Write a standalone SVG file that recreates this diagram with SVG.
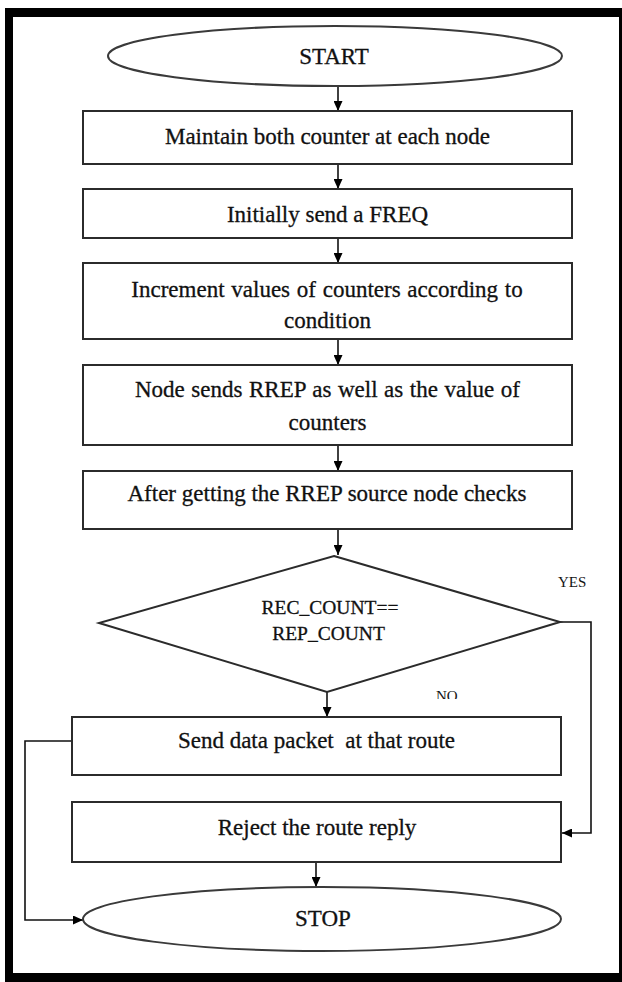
<svg xmlns="http://www.w3.org/2000/svg" width="622" height="982" viewBox="0 0 622 982">
  <style>
    .box { fill: #ffffff; stroke: #2b2b2b; stroke-width: 2; }
    .term { fill: #ffffff; stroke: #3a3a3a; stroke-width: 2; }
    .txt { font-family: "Liberation Serif", "DejaVu Serif", serif; font-size: 23px; fill: #111111; stroke: #111111; stroke-width: 0.3; text-anchor: middle; }
    .dtxt { font-size: 19.5px; }
    .lbl { font-family: "Liberation Serif", "DejaVu Serif", serif; font-size: 15px; fill: #141414; }
    .wire { fill: none; stroke: #111111; stroke-width: 1.6; }
    .frame { fill: #000000; }
  </style>
  <defs>
    <marker id="head" markerUnits="userSpaceOnUse" markerWidth="11" markerHeight="9" refX="10" refY="4.5" orient="auto">
      <path d="M0,0 L10,4.5 L0,9 Z" fill="#000000"/>
    </marker>
    <clipPath id="noClip">
      <rect x="420" y="680" width="60" height="19"/>
    </clipPath>
  </defs>

  <rect width="622" height="982" fill="#ffffff"/>

  <!-- page frame -->
  <g id="frame">
    <rect class="frame" x="5" y="8" width="617" height="9"/>
    <rect class="frame" x="5" y="8" width="8" height="974"/>
    <rect class="frame" x="5" y="973" width="617" height="9"/>
    <rect class="frame" x="619" y="8" width="3" height="974"/>
  </g>

  <!-- connectors -->
  <g id="connectors">
    <line class="wire" x1="338" y1="86" x2="338" y2="111" marker-end="url(#head)"/>
    <line class="wire" x1="338" y1="164" x2="338" y2="189" marker-end="url(#head)"/>
    <line class="wire" x1="338" y1="238" x2="338" y2="263" marker-end="url(#head)"/>
    <line class="wire" x1="338" y1="339" x2="338" y2="365" marker-end="url(#head)"/>
    <line class="wire" x1="338" y1="445" x2="338" y2="471" marker-end="url(#head)"/>
    <line class="wire" x1="338" y1="529" x2="338" y2="555" marker-end="url(#head)"/>
    <line class="wire" x1="327" y1="692" x2="327" y2="717" marker-end="url(#head)"/>
    <polyline class="wire" points="560,622 591,622 591,833 562,833" marker-end="url(#head)"/>
    <line class="wire" x1="316" y1="862" x2="316" y2="887" marker-end="url(#head)"/>
    <polyline class="wire" points="72,741 25,741 25,920 83,920" marker-end="url(#head)"/>
  </g>

  <g id="start">
    <ellipse class="term" cx="335" cy="56" rx="227" ry="30"/>
    <text class="txt" x="334" y="64">START</text>
  </g>

  <g id="maintain">
    <rect class="box" x="83" y="111" width="489" height="53"/>
    <text class="txt" x="327.5" y="144">Maintain both counter at each node</text>
  </g>

  <g id="freq">
    <rect class="box" x="83" y="189" width="489" height="49"/>
    <text class="txt" x="327.5" y="222">Initially send a FREQ</text>
  </g>

  <g id="increment">
    <rect class="box" x="83" y="263" width="489" height="76"/>
    <text class="txt" x="327" y="297" word-spacing="1">Increment values of counters according to</text>
    <text class="txt" x="327.5" y="328">condition</text>
  </g>

  <g id="rrep">
    <rect class="box" x="83" y="365" width="489" height="80"/>
    <text class="txt" x="327.5" y="397" word-spacing="0.8">Node sends RREP as well as the value of</text>
    <text class="txt" x="327.5" y="430">counters</text>
  </g>

  <g id="check">
    <rect class="box" x="83" y="471" width="489" height="58"/>
    <text class="txt" x="327" y="501">After getting the RREP source node checks</text>
  </g>

  <g id="decision">
    <polygon class="box" points="334,556 560,622 327,692 99,623"/>
    <text class="txt dtxt" x="330" y="614">REC_COUNT==</text>
    <text class="txt dtxt" x="328.5" y="640">REP_COUNT</text>
  </g>

  <g id="labels">
    <text class="lbl" x="558" y="587">YES</text>
    <text class="lbl" x="436" y="701" clip-path="url(#noClip)">NO</text>
  </g>

  <g id="send">
    <rect class="box" x="72" y="717" width="489" height="58"/>
    <text class="txt" x="316.5" y="748" xml:space="preserve">Send data packet  at that route</text>
  </g>

  <g id="reject">
    <rect class="box" x="72" y="802" width="489" height="60"/>
    <text class="txt" x="317" y="835">Reject the route reply</text>
  </g>

  <g id="stop">
    <ellipse class="term" cx="322" cy="919" rx="239" ry="32"/>
    <text class="txt" x="323" y="926">STOP</text>
  </g>
</svg>
